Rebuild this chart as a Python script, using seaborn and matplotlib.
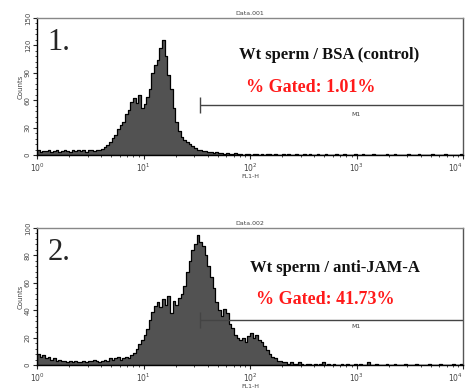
import numpy as np
import pandas as pd
import matplotlib
matplotlib.use("Agg")
import matplotlib.pyplot as plt
import seaborn as sns

# log10 bin layout (channel bins of 0.025 decade from 10^0 to 10^4)
n_bins = 160
log_lo, log_hi = 0.0, 4.0

counts_bsa = [5, 3, 4, 4, 6, 3, 4, 5, 3, 4, 5, 4, 3, 5, 4, 6, 4, 5, 3, 5,
              6, 4, 5, 6, 7, 9, 11, 14, 19, 22, 28, 33, 36, 45, 49, 58, 62, 57, 66, 52,
              56, 64, 72, 90, 98, 104, 117, 126, 108, 88, 72, 52, 36, 26, 20, 16, 14, 12, 10, 8,
              6, 5, 4, 4, 3, 3, 2, 3, 2, 2, 1, 2, 1, 1, 2, 1, 1, 0, 1, 1,
              0, 1, 1, 0, 1, 0, 1, 1, 0, 1, 0, 0, 1, 0, 1, 0, 0, 1, 0, 0,
              1, 0, 1, 0, 0, 1, 0, 0, 1, 0, 0, 0, 1, 0, 0, 1, 0, 0, 0, 1,
              0, 0, 1, 0, 0, 0, 1, 0, 0, 0, 0, 1, 0, 0, 1, 0, 0, 0, 0, 1,
              0, 0, 0, 1, 0, 0, 0, 0, 1, 0, 0, 0, 0, 1, 0, 0, 0, 0, 0, 1]
counts_jam = [8, 6, 7, 5, 6, 4, 5, 3, 4, 3, 3, 2, 3, 2, 3, 2, 2, 3, 2, 3,
              3, 4, 3, 2, 3, 4, 3, 5, 4, 5, 6, 4, 5, 6, 5, 7, 9, 12, 15, 18,
              22, 26, 33, 39, 43, 46, 42, 48, 44, 50, 38, 47, 44, 49, 52, 58, 68, 76, 84, 88,
              95, 90, 87, 80, 72, 64, 56, 46, 40, 36, 41, 38, 30, 27, 22, 20, 18, 20, 17, 21,
              23, 20, 22, 18, 17, 14, 11, 8, 6, 5, 3, 3, 2, 2, 1, 2, 1, 1, 2, 1,
              0, 1, 1, 0, 1, 0, 1, 2, 0, 1, 0, 1, 0, 0, 1, 0, 1, 0, 0, 1,
              0, 1, 0, 0, 2, 0, 0, 1, 0, 0, 0, 1, 0, 0, 1, 0, 0, 0, 1, 0,
              0, 0, 1, 0, 0, 0, 0, 1, 0, 0, 0, 1, 0, 0, 0, 0, 1, 0, 0, 1]
first_channel_jam = 50

panel_labels = ["1.", "2."]
titles = ["Data.001", "Data.002"]
captions = ["Wt sperm / BSA (control)", "Wt sperm / anti-JAM-A"]
gated = ["% Gated: 1.01%", "% Gated: 41.73%"]
gate_start = [34, 34]
gate_level = [55, 33]
m1_level = [44, 28]
y_max = [150, 100]
y_ticks = [[0, 30, 60, 90, 120, 150], [0, 20, 40, 60, 80, 100]]
x_ticks = [1, 10, 100, 1000, 10000]
x_ticklabels = ["$10^0$", "$10^1$", "$10^2$", "$10^3$", "$10^4$"]

sns.set_style("ticks")
plt.rcParams["font.family"] = ["DejaVu Sans"]

fig = plt.figure(figsize=(4.68, 3.91), dpi=100)
ax1 = fig.add_axes([37/468, 1-155/391, 426/468, 137/391])
ax2 = fig.add_axes([37/468, 1-365/391, 426/468, 137/391])
axes = [ax1, ax2]
series = [counts_bsa, counts_jam]

centers = 10 ** (log_lo + (np.arange(n_bins) + 0.5) * (log_hi - log_lo) / n_bins)

caption_pos = [(0.475, 0.73), (0.500, 0.71)]
gated_pos = [(0.49, 0.49), (0.515, 0.48)]

for i, ax in enumerate(axes):
    df = pd.DataFrame({"FL1-H": centers, "Counts": series[i]})
    sns.histplot(data=df, x="FL1-H", weights="Counts", bins=n_bins,
                 binrange=(log_lo, log_hi), log_scale=True, element="step",
                 fill=True, color="#525252", alpha=1.0, edgecolor="black",
                 linewidth=0.9, ax=ax)
    ax.set_xlim(1, 10000)
    ax.set_ylim(0, y_max[i])
    ax.set_xticks(x_ticks)
    ax.set_xticklabels(x_ticklabels, fontsize=5.5, color="#444444")
    ax.get_xticklabels()[-1].set_horizontalalignment("right")
    ax.set_yticks(y_ticks[i])
    ax.set_yticklabels([str(t) for t in y_ticks[i]], fontsize=5, rotation=90,
                       va="center", color="#444444")
    ax.yaxis.set_minor_locator(matplotlib.ticker.MultipleLocator(y_max[i] / 25))
    ax.tick_params(axis="both", which="major", length=3, width=0.8, pad=1.5)
    ax.tick_params(axis="both", which="minor", length=1.5, width=0.6)
    ax.set_xlabel("FL1-H", fontsize=4.5, labelpad=0, color="#444444")
    ax.set_ylabel("Counts", fontsize=5, labelpad=1, color="#444444")
    ax.set_title(titles[i], fontsize=4.5, pad=2, color="#444444")
    for s in ax.spines.values():
        s.set_visible(True)
        s.set_linewidth(1.0)
        s.set_color("black")
    ax.spines["top"].set_color("#888888")
    ax.spines["right"].set_color("#555555")
    # gate M1
    ax.hlines(gate_level[i], gate_start[i], 10000, color="#444444", lw=1.0)
    ax.vlines(gate_start[i], gate_level[i] - y_max[i] * 0.06,
              gate_level[i] + y_max[i] * 0.06, color="#444444", lw=1.0)
    ax.text(1000, m1_level[i], "M1", fontsize=4.5, ha="center", va="center",
            color="#444444")
    ax.text(0.025, 0.82, panel_labels[i], transform=ax.transAxes,
            fontsize=22, family="Liberation Serif", ha="left", va="center")
    ax.text(*caption_pos[i], captions[i], transform=ax.transAxes,
            fontsize=12, family="Liberation Serif", fontweight="bold",
            ha="left", va="center", color="#111111")
    ax.text(*gated_pos[i], gated[i], transform=ax.transAxes, fontsize=13,
            family="Liberation Serif", fontweight="bold", color="#ff1a1a",
            ha="left", va="center")

ax2.vlines(1.0, 0, first_channel_jam, color="black", lw=1.2)

fig.savefig("out.png", dpi=100)
